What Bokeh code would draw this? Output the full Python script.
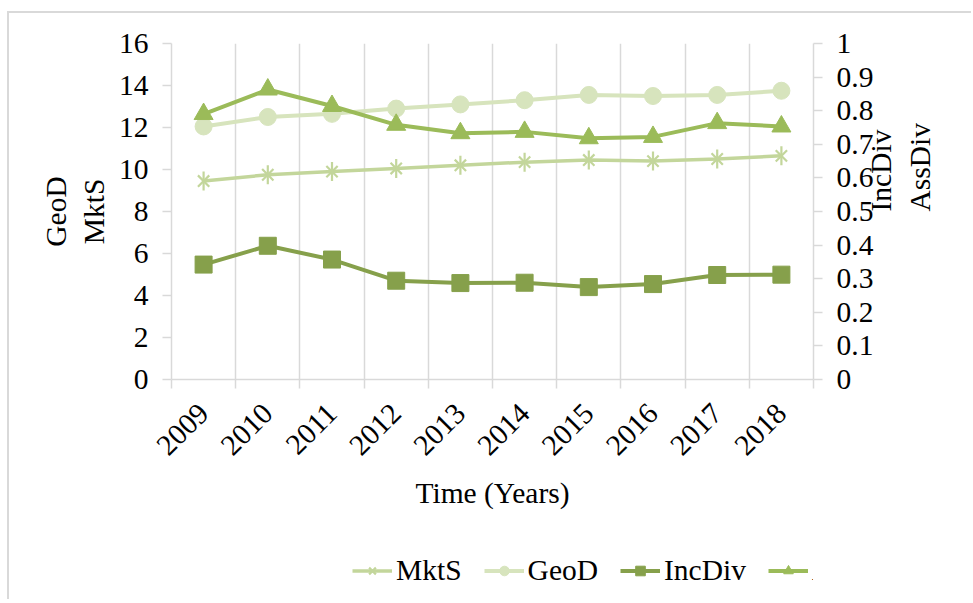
import math
from bokeh.plotting import figure
from bokeh.layouts import column
from bokeh.models import (Range1d, LinearAxis, FixedTicker, Legend, LegendItem,
                          ColumnDataSource, CustomJSTickFormatter)
from bokeh.embed import file_html
from bokeh.resources import INLINE

# ---- data ----
years = [2009, 2010, 2011, 2012, 2013, 2014, 2015, 2016, 2017, 2018]
mkts = [9.45, 9.75, 9.9, 10.05, 10.2, 10.35, 10.45, 10.4, 10.5, 10.65]
geod = [12.05, 12.5, 12.65, 12.9, 13.1, 13.3, 13.55, 13.5, 13.55, 13.75]
incdiv = [0.342, 0.398, 0.357, 0.294, 0.287, 0.288, 0.275, 0.284, 0.311, 0.312]
assdiv = [0.79, 0.863, 0.814, 0.758, 0.733, 0.737, 0.718, 0.722, 0.763, 0.753]
left_ticks = [0, 2, 4, 6, 8, 10, 12, 14, 16]
right_ticks = [0, 0.1, 0.2, 0.3, 0.4, 0.5, 0.6, 0.7, 0.8, 0.9, 1]

FONT = "Liberation Serif"
FS = "29.5px"
GRID = "#d9d9d9"
C_MKTS = "#c3d69b"
C_GEOD = "#d7e4bd"
C_INC = "#86a04b"
C_ASS = "#9bbb59"
W = 964

src = ColumnDataSource(dict(year=years, mkts=mkts, geod=geod, incdiv=incdiv, assdiv=assdiv))

p = figure(width=W, height=530, output_backend="svg", toolbar_location=None,
           x_range=Range1d(years[0] - 0.5, years[-1] + 0.5), y_range=Range1d(0, 16),
           min_border_left=162, min_border_right=160, min_border_top=30, min_border_bottom=164)
p.styles = {"margin-left": "7px", "margin-top": "11px",
            "border-left": "2px solid #d9d9d9", "border-top": "2px solid #d9d9d9"}
p.outline_line_color = None
p.extra_y_ranges = {"r": Range1d(0, 1)}

# x axis
boundaries = [y - 0.5 for y in years] + [years[-1] + 0.5]
xa = p.xaxis[0]
xa.ticker = FixedTicker(ticks=years, minor_ticks=boundaries)
xa.major_tick_line_color = None
xa.minor_tick_line_color = GRID
xa.minor_tick_line_width = 1.5
xa.minor_tick_out = 9
xa.minor_tick_in = 0
xa.axis_line_color = GRID
xa.axis_line_width = 1.5
xa.major_label_orientation = math.pi / 4
xa.major_label_text_font = FONT
xa.major_label_text_font_size = FS
xa.major_label_text_color = "black"
xa.major_label_standoff = 20
xa.axis_label = "Time (Years)"
xa.axis_label_text_font = FONT
xa.axis_label_text_font_size = FS
xa.axis_label_text_font_style = "normal"
xa.axis_label_text_color = "black"
xa.axis_label_standoff = 10

p.xgrid.ticker = FixedTicker(ticks=boundaries)
p.xgrid.grid_line_color = GRID
p.xgrid.grid_line_width = 1.5
p.ygrid.grid_line_color = None

# left axis
ya = p.yaxis[0]
ya.ticker = FixedTicker(ticks=left_ticks)
ya.axis_line_color = GRID
ya.axis_line_width = 1.5
ya.major_tick_line_color = GRID
ya.major_tick_line_width = 1.5
ya.major_tick_out = 9
ya.major_tick_in = 0
ya.minor_tick_line_color = None
ya.major_label_text_font = FONT
ya.major_label_text_font_size = FS
ya.major_label_text_color = "black"
ya.major_label_standoff = 14
ya.axis_label = "GeoD\nMktS"
ya.axis_label_text_font = FONT
ya.axis_label_text_font_size = FS
ya.axis_label_text_font_style = "normal"
ya.axis_label_text_color = "black"
ya.axis_label_standoff = 6

# right axis (ticks and numbers)
ra = LinearAxis(y_range_name="r", ticker=FixedTicker(ticks=right_ticks),
                formatter=CustomJSTickFormatter(code="return (Math.round(tick*10)/10).toString();"))
ra.axis_line_color = GRID
ra.axis_line_width = 1.5
ra.major_tick_line_color = GRID
ra.major_tick_line_width = 1.5
ra.major_tick_out = 9
ra.major_tick_in = 0
ra.minor_tick_line_color = None
ra.major_label_text_font = FONT
ra.major_label_text_font_size = FS
ra.major_label_text_color = "black"
ra.major_label_standoff = 14
p.add_layout(ra, "right")

# right axis title (bottom-to-top), carried by a bare axis
ra2 = LinearAxis(y_range_name="r", ticker=FixedTicker(ticks=[]))
ra2.axis_line_color = None
ra2.major_tick_line_color = None
ra2.minor_tick_line_color = None
ra2.major_label_text_color = None
ra2.axis_label = "IncDiv\nAssDiv"
ra2.axis_label_text_font = FONT
ra2.axis_label_text_font_size = FS
ra2.axis_label_text_font_style = "normal"
ra2.axis_label_text_color = "black"
ra2.axis_label_standoff = 24
try:
    ra2.axis_label_orientation = math.pi / 2
except Exception:
    pass
p.add_layout(ra2, "right")

# series
l1 = p.line("year", "mkts", source=src, line_color=C_MKTS, line_width=3.5)
s1a = p.scatter("year", "mkts", source=src, marker="x", size=16, line_color=C_MKTS, line_width=2.2)
s1b = p.scatter("year", "mkts", source=src, marker="dash", angle=math.pi / 2, size=19,
                line_color=C_MKTS, line_width=2.2)

l2 = p.line("year", "geod", source=src, line_color=C_GEOD, line_width=4)
s2 = p.scatter("year", "geod", source=src, marker="circle", size=17, fill_color=C_GEOD,
               line_color=C_GEOD)

l3 = p.line("year", "incdiv", source=src, y_range_name="r", line_color=C_INC, line_width=4)
s3 = p.scatter("year", "incdiv", source=src, y_range_name="r", marker="square", size=17,
               fill_color=C_INC, line_color=C_INC)

l4 = p.line("year", "assdiv", source=src, y_range_name="r", line_color=C_ASS, line_width=4)
s4 = p.scatter("year", "assdiv", source=src, y_range_name="r", marker="triangle", size=19,
               fill_color=C_ASS, line_color=C_ASS)

# ---- legend strip (a second figure whose glyphs fall outside its ranges) ----
q = figure(width=W, height=58, output_backend="svg", toolbar_location=None,
           x_range=Range1d(0, 1), y_range=Range1d(0, 1), x_axis_type=None, y_axis_type=None,
           min_border_left=0, min_border_right=0, min_border_top=0, min_border_bottom=0)
q.styles = {"margin-left": "7px", "border-left": "2px solid #d9d9d9"}
q.outline_line_color = None
q.grid.grid_line_color = None

m1 = q.line("year", "mkts", source=src, line_color=C_MKTS, line_width=3.5)
m1a = q.scatter("year", "mkts", source=src, marker="x", size=16, line_color=C_MKTS, line_width=2.2)
m1b = q.scatter("year", "mkts", source=src, marker="dash", angle=math.pi / 2, size=19,
                line_color=C_MKTS, line_width=2.2)
m2 = q.line("year", "geod", source=src, line_color=C_GEOD, line_width=4)
m2a = q.scatter("year", "geod", source=src, marker="circle", size=17, fill_color=C_GEOD,
                line_color=C_GEOD)
m3 = q.line("year", "incdiv", source=src, line_color=C_INC, line_width=4)
m3a = q.scatter("year", "incdiv", source=src, marker="square", size=17,
                fill_color=C_INC, line_color=C_INC)
m4 = q.line("year", "assdiv", source=src, line_color=C_ASS, line_width=4)
m4a = q.scatter("year", "assdiv", source=src, marker="triangle", size=19,
                fill_color=C_ASS, line_color=C_ASS)

legend = Legend(items=[
    LegendItem(label="MktS", renderers=[m1, m1a, m1b]),
    LegendItem(label="GeoD", renderers=[m2, m2a]),
    LegendItem(label="IncDiv", renderers=[m3, m3a]),
    LegendItem(label="AssDiv", renderers=[m4, m4a]),
], orientation="horizontal", location="left")
legend.label_text_font = FONT
legend.label_text_font_size = FS
legend.label_text_color = "black"
legend.glyph_width = 40
legend.glyph_height = 24
legend.label_standoff = 4
legend.spacing = 22
legend.padding = 0
legend.margin = 181
legend.border_line_color = None
legend.background_fill_alpha = 0
q.add_layout(legend, "center")

page = column(p, q, spacing=0)
open("out.html", "w").write(file_html(page, INLINE))
